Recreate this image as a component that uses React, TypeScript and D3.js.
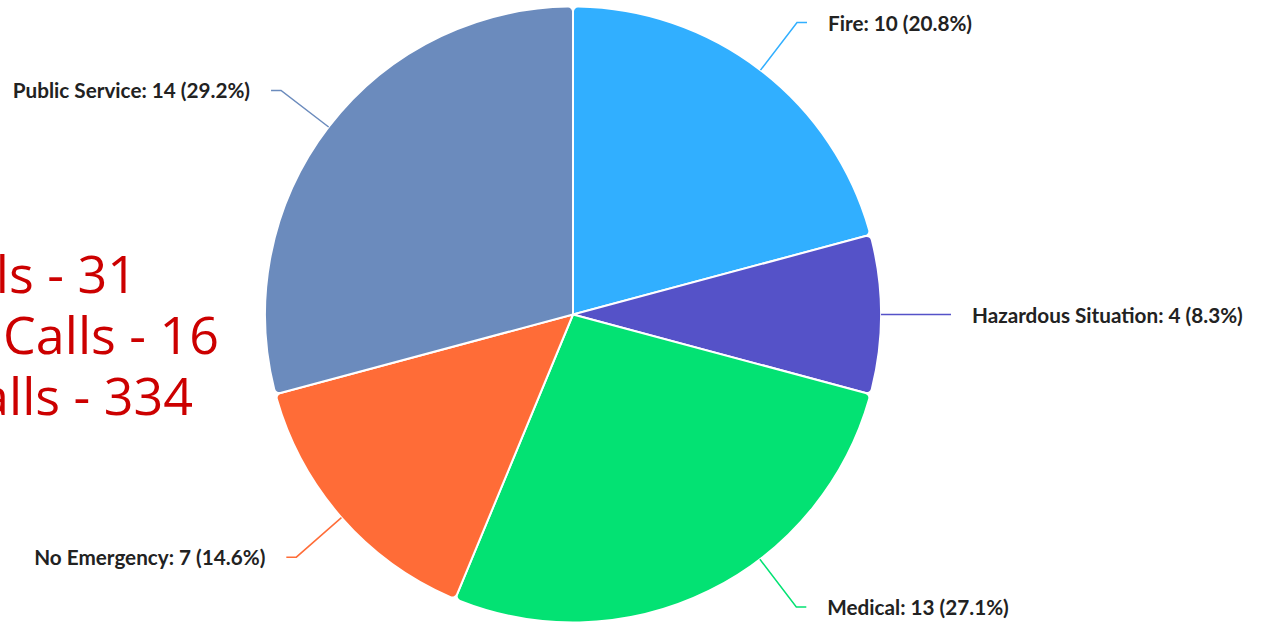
import React, { useEffect, useRef } from 'react';
import * as d3 from 'd3';

const categories = ['Fire', 'Hazardous Situation', 'Medical', 'No Emergency', 'Public Service'];
const counts = [10, 4, 13, 7, 14];
const colors = ['#31afff', '#5552c8', '#03e273', '#ff6c37', '#6b8bbd'];
const summaryLines = ['Open Calls - 31', 'Pending Calls - 16', 'Total Calls - 334'];
const summaryRightEdges = [137, 219, 193];

const W = 1262;
const H = 624;

const App = () => {
  const svgRef = useRef<SVGSVGElement>(null);

  useEffect(() => {
    const svg = d3.select(svgRef.current);
    svg.selectAll('*').remove();

    const cx = 573;
    const cy = 314.5;
    const radius = 308;
    const elbowR = 368;
    const straight = 10;
    const textOffset = 21;
    const maxY = H - 17;
    const minY = 17;
    const total = d3.sum(counts);

    const data = categories.map((c, i) => ({ label: c, value: counts[i], color: colors[i] }));

    const pie = d3.pie<any>().sort(null).value((d) => d.value);
    const arcs = pie(data);
    const arc = d3.arc<any>().innerRadius(0).outerRadius(radius).cornerRadius(5);

    // summary text on the left (runs off the left edge, as in the original)
    const summary = svg.append('g');
    summaryLines.forEach((t, i) => {
      summary.append('text')
        .attr('x', summaryRightEdges[i])
        .attr('y', 293 + i * 61)
        .attr('text-anchor', 'end')
        .attr('font-family', '"Open Sans", sans-serif')
        .attr('font-size', 52)
        .attr('fill', '#cc0000')
        .text(t);
    });

    const g = svg.append('g').attr('transform', `translate(${cx},${cy})`);

    g.selectAll('path.slice')
      .data(arcs)
      .enter()
      .append('path')
      .attr('class', 'slice')
      .attr('d', arc)
      .attr('fill', (d) => d.data.color)
      .attr('stroke', '#fff')
      .attr('stroke-width', 2);

    // link labels, elbows kept inside the picture
    arcs.forEach((d) => {
      let a = (d.startAngle + d.endAngle) / 2;
      let ey = -elbowR * Math.cos(a);
      if (cy + ey > maxY) {
        a = Math.PI - Math.acos((maxY - cy) / elbowR);
      } else if (cy + ey < minY) {
        a = Math.acos((cy - minY) / elbowR);
        if (Math.sin((d.startAngle + d.endAngle) / 2) < 0) a = -a;
      }
      const sx = radius * Math.sin(a);
      const sy = -radius * Math.cos(a);
      const ex = elbowR * Math.sin(a);
      ey = -elbowR * Math.cos(a);
      const right = Math.sin(a) >= 0;
      const hx = ex + (right ? straight : -straight);
      g.append('path')
        .attr('d', `M${sx},${sy}L${ex},${ey}L${hx},${ey}`)
        .attr('fill', 'none')
        .attr('stroke', d.data.color)
        .attr('stroke-width', 1.5);
      const pct = ((d.data.value / total) * 100).toFixed(1);
      g.append('text')
        .attr('x', hx + (right ? textOffset : -textOffset))
        .attr('y', ey)
        .attr('text-anchor', right ? 'start' : 'end')
        .attr('dominant-baseline', 'central')
        .attr('font-family', 'Lato, sans-serif')
        .attr('font-weight', 'bold')
        .attr('font-size', 20.7)
        .attr('fill', '#222')
        .text(`${d.data.label}: ${d.data.value} (${pct}%)`);
    });
  }, []);

  return (
    <svg
      ref={svgRef}
      width={W}
      height={H}
      style={{ position: 'absolute', left: 0, top: 0, background: '#fff' }}
    />
  );
};

export default App;
